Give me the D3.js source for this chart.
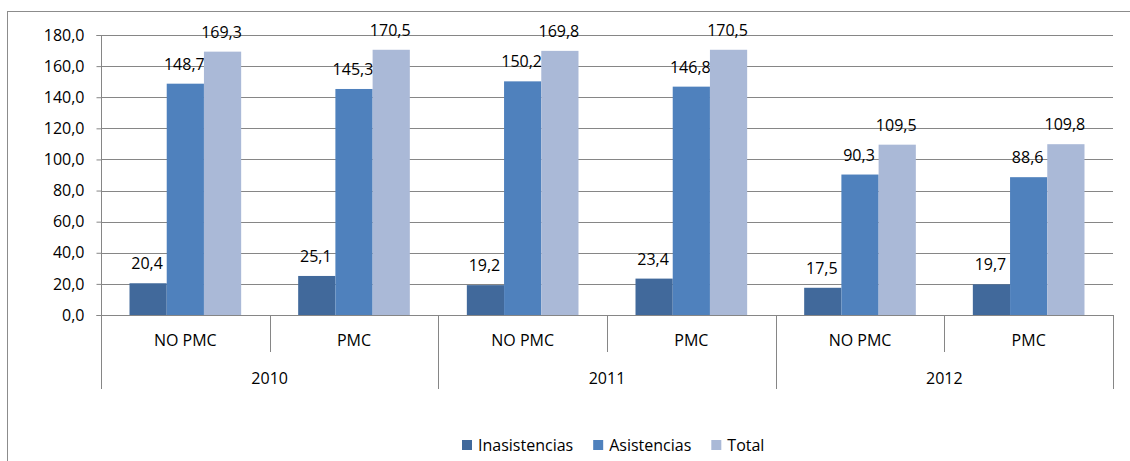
<!DOCTYPE html>
<html>
<head>
<meta charset="utf-8">
<script src="https://cdn.jsdelivr.net/npm/d3@7"></script>
<style>
  html, body { margin: 0; padding: 0; background: #fff; }
  svg { display: block; }
  text { font-family: "Open Sans", "Liberation Sans", sans-serif; font-size: 16px; fill: #000; }
</style>
</head>
<body>
<svg id="chart" width="1130" height="461"></svg>
<script>
// Years and sub-groups along the category axis
const years = ["2010", "2011", "2012"];
const groups = ["NO PMC", "PMC"];
const seriesNames = ["Inasistencias", "Asistencias", "Total"];
const seriesColors = ["#41699B", "#4F81BD", "#AAB9D7"];

// One value per (year, group), in order 2010 NO PMC, 2010 PMC, 2011 NO PMC, ...
const inasistencias = [20.4, 25.1, 19.2, 23.4, 17.5, 19.7];
const asistencias   = [148.7, 145.3, 150.2, 146.8, 90.3, 88.6];
const total         = [169.3, 170.5, 169.8, 170.5, 109.5, 109.8];

const yTicks = [0, 20, 40, 60, 80, 100, 120, 140, 160, 180];

const seriesValues = [inasistencias, asistencias, total];
const fmt = v => v.toFixed(1).replace(".", ",");

const svg = d3.select("#chart");
const plotLeft = 101, plotRight = 1113, plotTop = 35, plotBottom = 315;
const gridColor = "#868686";

// Chart area border
svg.append("rect")
  .attr("x", 7.5).attr("y", 11.5)
  .attr("width", 1200).attr("height", 600)
  .attr("fill", "none").attr("stroke", "#8c8c8c").attr("stroke-width", 1);

const cats = [];
years.forEach(yr => groups.forEach(g => cats.push(yr + "|" + g)));

const x0 = d3.scaleBand().domain(cats).range([plotLeft, plotRight]).paddingInner(0).paddingOuter(0);
const inner = x0.bandwidth();
const x1 = d3.scaleBand().domain(seriesNames)
  .range([inner * 0.169, inner * 0.831]).paddingInner(0).paddingOuter(0);
const y = d3.scaleLinear().domain([0, 180]).range([plotBottom, plotTop]);

// Horizontal gridlines
svg.append("g").selectAll("line")
  .data(yTicks.filter(t => t > 0))
  .join("line")
  .attr("x1", plotLeft).attr("x2", plotRight)
  .attr("y1", d => Math.round(y(d)) + 0.5).attr("y2", d => Math.round(y(d)) + 0.5)
  .attr("stroke", gridColor).attr("stroke-width", 1);

// Y axis
const yAxis = svg.append("g")
  .attr("transform", `translate(${plotLeft + 0.5},0.5)`)
  .call(d3.axisLeft(y).tickValues(yTicks).tickFormat(fmt).tickSize(5).tickPadding(12).offset(0));
yAxis.attr("font-family", null).attr("font-size", null);
yAxis.select(".domain").attr("stroke", gridColor);
yAxis.selectAll(".tick line").attr("stroke", gridColor);
yAxis.selectAll(".tick text").attr("fill", "#000");

// Bars and value labels
cats.forEach((c, i) => {
  const g = svg.append("g").attr("transform", `translate(${x0(c)},0)`);
  seriesNames.forEach((s, k) => {
    const v = seriesValues[k][i];
    g.append("rect")
      .attr("x", x1(s)).attr("width", x1.bandwidth())
      .attr("y", y(v)).attr("height", y(0) - y(v))
      .attr("fill", seriesColors[k]);
    g.append("text")
      .attr("x", x1(s) + x1.bandwidth() / 2 - 1)
      .attr("y", y(v) - 14)
      .attr("text-anchor", "middle")
      .text(fmt(v));
  });
});

// Category axis line and dividers
const axisG = svg.append("g");
axisG.append("line")
  .attr("x1", plotLeft).attr("x2", plotRight)
  .attr("y1", plotBottom + 0.5).attr("y2", plotBottom + 0.5)
  .attr("stroke", gridColor);
const boundaries = cats.map(c => x0(c)).concat([plotRight]);
boundaries.forEach((bx, i) => {
  const isYear = i % groups.length === 0;
  axisG.append("line")
    .attr("x1", Math.round(bx) + 0.5).attr("x2", Math.round(bx) + 0.5)
    .attr("y1", plotBottom).attr("y2", isYear ? 389 : 352)
    .attr("stroke", gridColor);
});

// Group labels
cats.forEach((c, i) => {
  svg.append("text")
    .attr("x", x0(c) + inner / 2)
    .attr("y", 346)
    .attr("text-anchor", "middle")
    .text(groups[i % groups.length]);
});
// Year labels
years.forEach((yr, i) => {
  const a = x0(cats[i * groups.length]);
  const b = a + inner * groups.length;
  svg.append("text")
    .attr("x", (a + b) / 2)
    .attr("y", 384)
    .attr("text-anchor", "middle")
    .text(yr);
});

// Legend
const legend = svg.append("g");
let lx = 462;
seriesNames.forEach((s, k) => {
  legend.append("rect")
    .attr("x", lx).attr("y", 440).attr("width", 10).attr("height", 10)
    .attr("fill", seriesColors[k]);
  const t = legend.append("text")
    .attr("x", lx + 16).attr("y", 451)
    .text(s);
  lx += 16 + t.node().getComputedTextLength() + 20;
});
</script>
</body>
</html>
